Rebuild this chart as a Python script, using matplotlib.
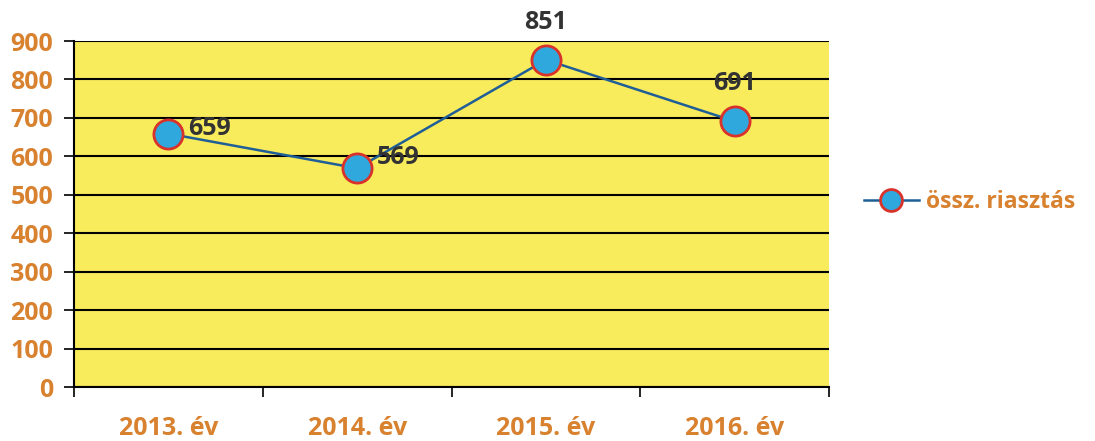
import matplotlib.pyplot as plt

plt.rcParams['font.family'] = ['Open Sans', 'DejaVu Sans']

categories = ['2013. év', '2014. év', '2015. év', '2016. év']
values = [659, 569, 851, 691]
series_name = 'össz. riasztás'

orange = '#D8812F'
fig = plt.figure(figsize=(10.95, 4.41), dpi=100)
ax = fig.add_axes([0.0676, 0.1224, 0.6895, 0.7846])
ax.set_facecolor('#F8EB5C')

x = [i + 0.5 for i in range(len(values))]
ax.plot(x, values, color='#1F5E96', lw=1.8, marker='o', markersize=21,
        markerfacecolor='#2FA8DE', markeredgecolor='#D8322A', markeredgewidth=2,
        label=series_name, zorder=3)

offsets = [(14, 4, 'left', 'center'), (14, 8, 'left', 'center'),
           (0, 18, 'center', 'bottom'), (0, 18, 'center', 'bottom')]
for xi, v, (dx, dy, ha, va) in zip(x, values, offsets):
    ax.annotate(str(v), (xi, v), xytext=(dx, dy), textcoords='offset points',
                ha=ha, va=va, fontsize=18, fontweight='bold', color='#333333')

ax.set_xlim(0, 4)
ax.set_ylim(0, 900)
ax.set_yticks(range(0, 901, 100))
ax.set_xticks(range(0, 5))
ax.set_xticklabels([])
ax.set_xticks(x, minor=True)
ax.set_xticklabels(categories, minor=True)
ax.tick_params(axis='x', which='minor', length=0, pad=21, labelsize=18, labelcolor=orange)
ax.tick_params(axis='x', which='major', length=7, width=1.2, direction='out')
ax.tick_params(axis='y', length=7, width=1.2, labelsize=18, labelcolor=orange, pad=8)
for lab in ax.get_xticklabels(minor=True) + ax.get_yticklabels():
    lab.set_fontweight('bold')

ax.grid(axis='y', color='black', lw=1.5)
ax.set_axisbelow(True)
for s in ['top', 'right']:
    ax.spines[s].set_visible(False)
ax.spines['left'].set_linewidth(1.5)
ax.spines['bottom'].set_linewidth(1.5)

leg = ax.legend(loc='center left', bbox_to_anchor=(1.019, 0.535), frameon=False,
                fontsize=16.5, markerscale=0.75, handlelength=2.4, handletextpad=0.3)
for t in leg.get_texts():
    t.set_color(orange)
    t.set_fontweight('bold')

fig.savefig('out.png', dpi=100)
